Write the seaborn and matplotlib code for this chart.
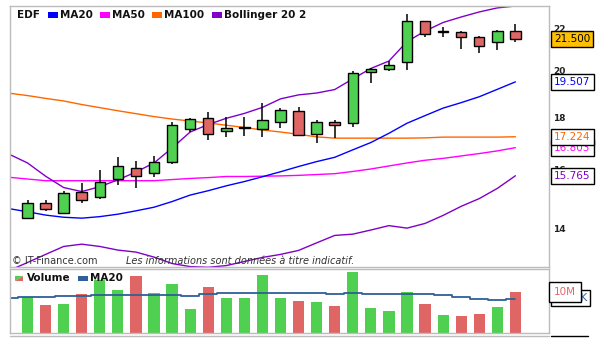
import numpy as np
import pandas as pd
import seaborn as sns
import matplotlib.pyplot as plt
from matplotlib.patches import Rectangle, Polygon
from matplotlib.lines import Line2D
from matplotlib.ticker import NullLocator
from matplotlib.transforms import blended_transform_factory

# EDF daily candles, oldest first
opens = [14.32, 14.81, 14.48, 15.21, 15.02, 15.64, 16.04, 15.86, 16.25, 17.53,
         17.97, 17.45, 17.56, 17.51, 17.80, 18.25, 17.32, 17.80, 17.76, 19.94,
         20.07, 20.39, 22.38, 21.86, 21.85, 21.59, 21.34, 21.88]
highs = [14.92, 14.92, 15.24, 15.52, 15.97, 16.46, 16.30, 16.47, 17.83, 17.97,
         18.21, 18.00, 18.02, 18.58, 18.38, 18.44, 17.90, 17.90, 20.00, 20.14,
         20.47, 22.75, 22.38, 22.08, 21.90, 21.66, 21.94, 22.24]
lows = [14.29, 14.57, 14.46, 14.83, 14.97, 15.45, 15.35, 15.73, 16.19, 17.43,
        17.09, 17.23, 17.25, 17.23, 17.55, 17.28, 17.00, 17.17, 17.62, 19.47,
        20.01, 20.06, 21.58, 21.58, 21.00, 20.81, 20.97, 21.35]
closes = [14.81, 14.61, 15.15, 14.91, 15.53, 16.11, 15.75, 16.25, 17.69, 17.93,
          17.32, 17.57, 17.59, 17.89, 18.30, 17.28, 17.80, 17.68, 19.89, 20.07,
          20.26, 22.38, 21.73, 21.87, 21.58, 21.18, 21.88, 21.50]
volumes_m = [8.7, 6.8, 7.1, 9.6, 12.8, 10.5, 13.9, 9.75, 11.95, 5.85,
             11.2, 8.5, 8.5, 14.1, 8.5, 7.8, 7.56, 6.6, 14.9, 6.1,
             5.4, 10.0, 7.1, 4.4, 4.15, 4.6, 6.3, 10.0]

# indicators, slot 0 is the day just before the first candle
ma20 = [14.63, 14.53, 14.42, 14.35, 14.32, 14.37, 14.45, 14.56, 14.68, 14.87,
        15.09, 15.24, 15.41, 15.56, 15.73, 15.91, 16.10, 16.28, 16.44, 16.72,
        17.00, 17.36, 17.76, 18.07, 18.38, 18.61, 18.86, 19.18, 19.507]
ma50 = [15.71, 15.65, 15.59, 15.59, 15.59, 15.59, 15.59, 15.59, 15.59, 15.63,
        15.67, 15.70, 15.74, 15.74, 15.75, 15.76, 15.78, 15.81, 15.84, 15.92,
        16.01, 16.12, 16.23, 16.33, 16.40, 16.49, 16.58, 16.68, 16.803]
ma100 = [19.01, 18.91, 18.79, 18.68, 18.53, 18.40, 18.27, 18.15, 18.03, 17.93,
         17.85, 17.77, 17.68, 17.59, 17.49, 17.41, 17.32, 17.22, 17.17, 17.17,
         17.17, 17.17, 17.17, 17.18, 17.21, 17.21, 17.21, 17.21, 17.224]
boll_up = [16.55, 16.23, 15.75, 15.35, 15.21, 15.38, 15.62, 15.90, 16.23, 16.79,
           17.41, 17.71, 17.96, 18.16, 18.41, 18.77, 18.94, 19.02, 19.17, 19.64,
           20.11, 20.45, 21.37, 21.89, 22.32, 22.60, 22.86, 23.07, 23.17]
boll_low = [12.72, 12.95, 13.19, 13.43, 13.50, 13.43, 13.32, 13.26, 13.11, 12.92,
            12.83, 12.81, 12.86, 12.98, 13.10, 13.19, 13.31, 13.54, 13.77, 13.81,
            13.94, 14.08, 14.00, 14.15, 14.41, 14.71, 14.97, 15.32, 15.765]
vol_ma20_m = [8.54, 8.7, 8.7, 8.94, 8.94, 9.19, 9.19, 9.19, 9.19, 9.19,
              8.94, 9.43, 9.76, 9.76, 9.76, 9.76, 9.76, 9.76, 9.51, 9.76,
              9.51, 9.51, 9.51, 9.51, 9.19, 8.7, 8.37, 7.97, 8.29]

price_ticks = [14, 16, 18, 20, 22]

GREEN = '#50d050'
RED = '#e06666'
BLUE = '#0000ff'
MAGENTA = '#ff00ff'
ORANGE = '#ff6600'
PURPLE = '#8000c8'
VOLBLUE = '#2f5f98'
BORDER = '#bcbcbc'

candles = pd.DataFrame({'pos': np.arange(1, len(opens) + 1), 'open': opens,
                        'high': highs, 'low': lows, 'close': closes,
                        'volume': np.array(volumes_m) * 1e6})
candles['up'] = candles['close'] >= candles['open']
candles['bottom'] = candles[['open', 'close']].min(axis=1)
candles['body'] = (candles['close'] - candles['open']).abs()
colors = [GREEN if u else RED for u in candles['up']]

ind = pd.DataFrame({'pos': np.arange(len(ma20)), 'ma20': ma20, 'ma50': ma50,
                    'ma100': ma100, 'up': boll_up, 'low': boll_low,
                    'vma': np.array(vol_ma20_m) * 1e6})

sns.set_theme(style='white')
plt.rcParams['font.family'] = ['DejaVu Sans']

W, H = 612, 364
fig = plt.figure(figsize=(W / 100, H / 100), dpi=100)


def fx(px):
    return px / W


def fy(py):
    return 1 - py / H


ax = fig.add_axes([fx(10), fy(267.3), fx(539), fy(6) - fy(267.3)])
axv = fig.add_axes([fx(10), fy(333), fx(539), fy(269.3) - fy(333)])

# price panel
ax.set_yscale('log')
for col, c in [('ma100', ORANGE), ('ma50', MAGENTA), ('ma20', BLUE), ('up', PURPLE), ('low', PURPLE)]:
    sns.lineplot(data=ind, x='pos', y=col, ax=ax, color=c, lw=1.0)
ax.vlines(candles['pos'], candles['low'], candles['high'], color='black', lw=1.1, zorder=3)
ax.bar(candles['pos'], candles['body'], bottom=candles['bottom'], width=0.58,
       color=colors, edgecolor='black', lw=1.0, zorder=4)

ax.set_xlim(0.03, 29.86)
ax.set_ylim(12.81, 23.17)
ax.set_xticks([])
ax.yaxis.set_minor_locator(NullLocator())
ax.yaxis.tick_right()
ax.set_yticks(price_ticks, labels=[str(t) for t in price_ticks], fontweight='bold')
ax.tick_params(axis='y', length=0, pad=3, labelsize=6.5, labelcolor='#222222')
ax.set_xlabel('')
ax.set_ylabel('')

# volume panel
axv.bar(candles['pos'], candles['volume'], width=0.62, color=colors, lw=0)
sns.lineplot(data=ind, x='pos', y='vma', ax=axv, color=VOLBLUE, lw=1.3, drawstyle='steps-mid')
axv.set_xlim(0.03, 29.86)
axv.set_ylim(0, 15.5e6)
axv.set_xticks([])
axv.set_yticks([])
axv.set_xlabel('')
axv.set_ylabel('')

for a in (ax, axv):
    for s in a.spines.values():
        s.set_color(BORDER)
        s.set_linewidth(1.0)

# last value boxes on the right
tx = (554.1 - 10) / 539
bt = blended_transform_factory(ax.transAxes, ax.transData)
boxes = [(ma50[-1], '16.803', MAGENTA, 'white'),
         (ma100[-1], '17.224', ORANGE, 'white'),
         (ma20[-1], '19.507', BLUE, 'white'),
         (boll_low[-1], '15.765', PURPLE, 'white'),
         (closes[-1], '21.500', 'black', '#ffc000')]
for i, (v, s, c, bg) in enumerate(boxes):
    ax.text(tx, v, s, transform=bt, color=c, fontsize=7.5, ha='left', va='center',
            zorder=6 + i, bbox=dict(boxstyle='square,pad=0.3', fc=bg, ec='black', lw=1.0))

# volume boxes: the MA20 box sits behind the last-volume box, only its tail shows
bv = blended_transform_factory(axv.transAxes, axv.transData)
axv.text(tx, ind['vma'].iloc[-1] + 0.2e6, '8291K', transform=bv, color=VOLBLUE, fontsize=7.5,
         ha='left', va='center', zorder=6,
         bbox=dict(boxstyle='square,pad=0.3', fc='white', ec='black', lw=1.0))
axv.text(tx, candles['volume'].iloc[-1], '10M', transform=bv, color=RED, fontsize=7.5,
         ha='left', va='center', zorder=7,
         bbox=dict(boxstyle='square,pad=0.45', fc='white', ec='black', lw=1.0))

# top legend
fig.text(fx(17), fy(15), 'EDF', fontsize=7.5, fontweight='bold', color='#111111', va='center')
for x0, c, lab in [(48, BLUE, 'MA20'), (100, MAGENTA, 'MA50'), (152, ORANGE, 'MA100'),
                   (212, PURPLE, 'Bollinger 20 2')]:
    fig.patches.append(Rectangle((fx(x0), fy(17.5)), fx(10), fy(12.5) - fy(17.5),
                                 transform=fig.transFigure, fc=c, ec='none'))
    fig.text(fx(x0 + 12), fy(15), lab, fontsize=7.5, fontweight='bold', color='#111111', va='center')

# volume legend
fig.patches.append(Polygon([(fx(15), fy(276)), (fx(23), fy(276)), (fx(15), fy(281))],
                           closed=True, transform=fig.transFigure, fc=GREEN, ec='none'))
fig.patches.append(Polygon([(fx(23), fy(276)), (fx(23), fy(281)), (fx(15), fy(281))],
                           closed=True, transform=fig.transFigure, fc=RED, ec='none'))
fig.text(fx(27), fy(278), 'Volume', fontsize=7.5, fontweight='bold', color='#111111', va='center')
fig.patches.append(Rectangle((fx(78), fy(280.5)), fx(10), fy(275.5) - fy(280.5),
                             transform=fig.transFigure, fc=VOLBLUE, ec='none'))
fig.text(fx(90), fy(278), 'MA20', fontsize=7.5, fontweight='bold', color='#111111', va='center')

# footer texts in the price panel
fig.text(fx(12), fy(260.5), '\u00a9 IT-Finance.com', fontsize=7, color='#333333', va='center')
fig.text(fx(126), fy(260.5), 'Les informations sont données à titre indicatif.', fontsize=7,
         style='italic', color='#333333', va='center')

# top edge of the next (cut off) panel
fig.lines.append(Line2D([fx(10), fx(549)], [fy(335.5), fy(335.5)], transform=fig.transFigure,
                        color=BORDER, lw=1.0))
fig.lines.append(Line2D([fx(551), fx(588)], [fy(336), fy(336)], transform=fig.transFigure,
                        color='black', lw=1.0))

fig.savefig('out.png', dpi=100, facecolor='white')
